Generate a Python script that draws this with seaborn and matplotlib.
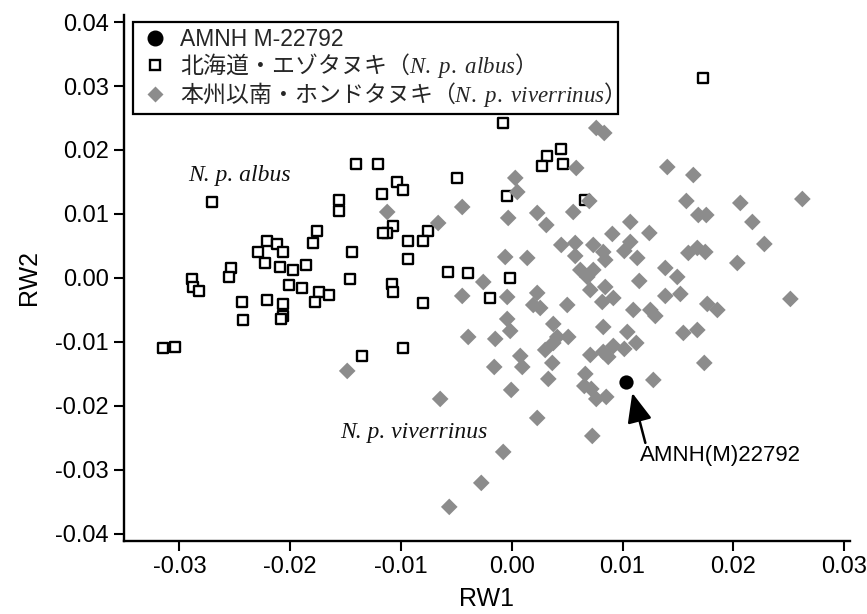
import numpy as np
import pandas as pd
import matplotlib
matplotlib.use("Agg")
import matplotlib.pyplot as plt
from matplotlib.lines import Line2D
import seaborn as sns

# ---------------- data ----------------
albus_x = [0.01729, -0.00077, -0.01404, -0.01205, 0.00321, 0.00447, 0.00465, 0.00275,
           -0.00492, -0.01034, -0.0098, -0.01169, -0.02704, -0.01558, -0.01558, -0.00041,
           0.00663, -0.0107, -0.01124, -0.0116, -0.00754, -0.00799, -0.00934, -0.01755,
           -0.02207, -0.02116, -0.01792, -0.02288, -0.02062, -0.0144, -0.00934, -0.02225,
           -0.02089, -0.01972, -0.01855, -0.02532, -0.0255, -0.02884, -0.02875, -0.02821,
           -0.02008, -0.01891, -0.01737, -0.01647, -0.01458, -0.01079, -0.0107, -0.02432,
           -0.02207, -0.02062, -0.01773, -0.02062, -0.0208, -0.02423, -0.00799, -0.03146,
           -0.03037, -0.01349, -0.0098, -0.00573, -0.00393, -0.00014, -0.00194]
albus_y = [0.03125, 0.02422, 0.01781, 0.01781, 0.01906, 0.02016, 0.01781, 0.0175,
           0.01563, 0.015, 0.01375, 0.01313, 0.01188, 0.01219, 0.01047, 0.01281,
           0.01219, 0.00813, 0.00703, 0.00703, 0.00734, 0.00578, 0.00578, 0.00734,
           0.00578, 0.00531, 0.00547, 0.00406, 0.00406, 0.00406, 0.00297, 0.00234,
           0.00172, 0.00125, 0.00203, 0.00156, 0.00016, -0.00016, -0.00141, -0.00203,
           -0.00109, -0.00156, -0.00219, -0.00266, -0.00016, -0.00094, -0.00219, -0.00375,
           -0.00344, -0.00406, -0.00375, -0.00594, -0.00641, -0.00656, -0.00391, -0.01094,
           -0.01078, -0.01219, -0.01094, 0.00094, 0.00078, 0.0, -0.00313]

viv_x = [0.00763, 0.00835, 0.00582, 0.01404, 0.01639, 0.00032, 0.0005, 0.007,
         0.01576, 0.02063, 0.02623, -0.00447, -0.01124, -0.00032, 0.0023, 0.00312,
         0.00555, 0.01684, 0.01756, 0.02172, -0.00664, 0.0107, 0.00908, 0.01242,
         0.0228, 0.00447, 0.00573, 0.00573, 0.00736, 0.00826, 0.00844, 0.0107,
         0.01016, 0.01133, 0.01594, 0.01675, 0.01747, 0.02036, -0.00059, 0.0014,
         0.01386, 0.01494, 0.00619, 0.00682, 0.00736, 0.01151, -0.00257, 0.00709,
         0.00844, 0.00917, 0.00817, 0.01386, 0.01522, 0.02515, 0.01765, 0.01856,
         0.01097, 0.01251, 0.01296, -0.00447, -0.00041, 0.0023, 0.00194, 0.00257,
         0.00501, -0.00041, -0.00014, -0.00149, -0.00393, 0.00375, 0.00411, 0.0051,
         0.00302, 0.00375, 0.00826, 0.01043, 0.01124, 0.01549, 0.01675, 0.00709,
         0.00826, 0.00917, 0.00871, 0.01016, 0.00077, 0.00095, -0.00158, 0.00366,
         0.0033, 0.01738, 0.00664, 0.00655, 0.00718, 0.00763, 0.00853, 0.01278,
         -0.00005, -0.00646, 0.0023, 0.00727, -0.00077, -0.00275, -0.00564, -0.01485]
viv_y = [0.02344, 0.02266, 0.01719, 0.01734, 0.01609, 0.01563, 0.01344, 0.01203,
         0.01203, 0.01172, 0.01234, 0.01109, 0.01031, 0.00938, 0.01016, 0.00828,
         0.01031, 0.00984, 0.00984, 0.00875, 0.00859, 0.00875, 0.00688, 0.00703,
         0.00531, 0.00516, 0.00547, 0.00344, 0.00516, 0.00406, 0.00281, 0.00563,
         0.00422, 0.00313, 0.00391, 0.00469, 0.00406, 0.00234, 0.00328, 0.00313,
         0.00156, 0.00016, 0.00125, 0.00016, 0.00125, -0.00047, -0.00063, -0.00188,
         -0.00141, -0.00313, -0.00375, -0.00281, -0.0025, -0.00328, -0.00406, -0.005,
         -0.005, -0.005, -0.00594, -0.00281, -0.00297, -0.00234, -0.00422, -0.00469,
         -0.00422, -0.00641, -0.00828, -0.00953, -0.00922, -0.00719, -0.00922, -0.00922,
         -0.01125, -0.01016, -0.00766, -0.00844, -0.01016, -0.00859, -0.00813, -0.01203,
         -0.01156, -0.01063, -0.01234, -0.01109, -0.01219, -0.01391, -0.01391, -0.01328,
         -0.01578, -0.01328, -0.015, -0.01688, -0.01734, -0.01891, -0.01859, -0.01594,
         -0.0175, -0.01891, -0.02188, -0.02469, -0.02719, -0.03203, -0.03578, -0.01453]

amnh_x = [0.0103]
amnh_y = [-0.01625]

x_ticks = [-0.03, -0.02, -0.01, 0.00, 0.01, 0.02, 0.03]
x_ticklabels = ["-0.03", "-0.02", "-0.01", "0.00", "0.01", "0.02", "0.03"]
y_ticks = [-0.04, -0.03, -0.02, -0.01, 0.00, 0.01, 0.02, 0.03, 0.04]
y_ticklabels = ["-0.04", "-0.03", "-0.02", "-0.01", "0.00", "0.01", "0.02", "0.03", "0.04"]

label_amnh = "AMNH M-22792"
label_albus = "北海道・エゾタヌキ（$\\mathit{N.\\ p.\\ albus}$）"
label_viv = "本州以南・ホンドタヌキ（$\\mathit{N.\\ p.\\ viverrinus}$）"

# ---------------- style ----------------
sns.set_theme(style="ticks")
plt.rcParams["font.family"] = ["Liberation Sans", "Noto Sans CJK JP", "DejaVu Sans"]
plt.rcParams["mathtext.fontset"] = "custom"
plt.rcParams["mathtext.it"] = "Liberation Serif:italic"
plt.rcParams["mathtext.rm"] = "Liberation Serif"
plt.rcParams["axes.unicode_minus"] = False

FS = 16
TFS = 17
GRAY = "#8c8c8c"

fig = plt.figure(figsize=(8.67, 6.14), dpi=100)
ax = fig.add_axes([0.143, 0.119, 0.837, 0.8566])

df_a = pd.DataFrame({"RW1": albus_x, "RW2": albus_y})
df_v = pd.DataFrame({"RW1": viv_x, "RW2": viv_y})
df_m = pd.DataFrame({"RW1": amnh_x, "RW2": amnh_y})

sns.scatterplot(data=df_a, x="RW1", y="RW2", ax=ax, marker="s", s=58,
                facecolor="white", edgecolor="black", linewidth=1.7, zorder=3)
sns.scatterplot(data=df_v, x="RW1", y="RW2", ax=ax, marker="D", s=72,
                color=GRAY, edgecolor="none", linewidth=0, zorder=4)
sns.scatterplot(data=df_m, x="RW1", y="RW2", ax=ax, marker="o", s=105,
                color="black", edgecolor="black", linewidth=0, zorder=5)

ax.set_xlim(-0.035, 0.0305)
ax.set_ylim(-0.0411, 0.0411)
ax.set_xticks(x_ticks)
ax.set_xticklabels(x_ticklabels)
ax.set_yticks(y_ticks)
ax.set_yticklabels(y_ticklabels)
ax.tick_params(axis="both", direction="out", length=7, width=1.5,
               labelsize=TFS, color="black", labelcolor="black", pad=4)
for side in ["top", "right"]:
    ax.spines[side].set_visible(False)
for side in ["left", "bottom"]:
    ax.spines[side].set_linewidth(1.7)
    ax.spines[side].set_color("black")

ax.set_xlabel("RW1", fontsize=TFS + 1, labelpad=6, color="black")
ax.set_ylabel("RW2", fontsize=TFS + 1, labelpad=10, color="black")

# annotations
ax.text(-0.02461, 0.01594, "N. p. albus", family="Liberation Serif", style="italic",
        fontsize=FS + 1, ha="center", va="center", color="#111111")
ax.text(-0.0088, -0.02422, "N. p. viverrinus", family="Liberation Serif", style="italic",
        fontsize=FS + 1, ha="center", va="center", color="#111111")
ax.text(0.01883, -0.02773, "AMNH(M)22792", fontsize=FS, ha="center", va="center",
        color="black")
ax.annotate("", xy=(0.01088, -0.01797), xytext=(0.01206, -0.02578),
            arrowprops=dict(arrowstyle="-|>,head_length=0.9,head_width=0.38",
                            color="black", lw=1.8, mutation_scale=20,
                            shrinkA=0, shrinkB=0))

# legend
handles = [
    Line2D([], [], marker="o", linestyle="none", markersize=10.5,
           markerfacecolor="black", markeredgecolor="black"),
    Line2D([], [], marker="s", linestyle="none", markersize=7.6,
           markerfacecolor="white", markeredgecolor="black", markeredgewidth=1.7),
    Line2D([], [], marker="D", linestyle="none", markersize=8.5,
           markerfacecolor=GRAY, markeredgecolor="none"),
]
leg = ax.legend(handles, [label_amnh, label_albus, label_viv],
                loc="upper left", bbox_to_anchor=(0.0124, 0.9867),
                borderaxespad=0, frameon=True, fancybox=False, framealpha=1,
                edgecolor="black", borderpad=0.25, labelspacing=0.0,
                handlelength=1.4, handletextpad=0.4,
                prop={"family": ["Noto Sans CJK JP"], "size": FS + 0.5})
leg.get_frame().set_linewidth(1.6)
leg.get_texts()[0].set_fontfamily(["Liberation Sans"])

fig.savefig("out.png", dpi=100)
